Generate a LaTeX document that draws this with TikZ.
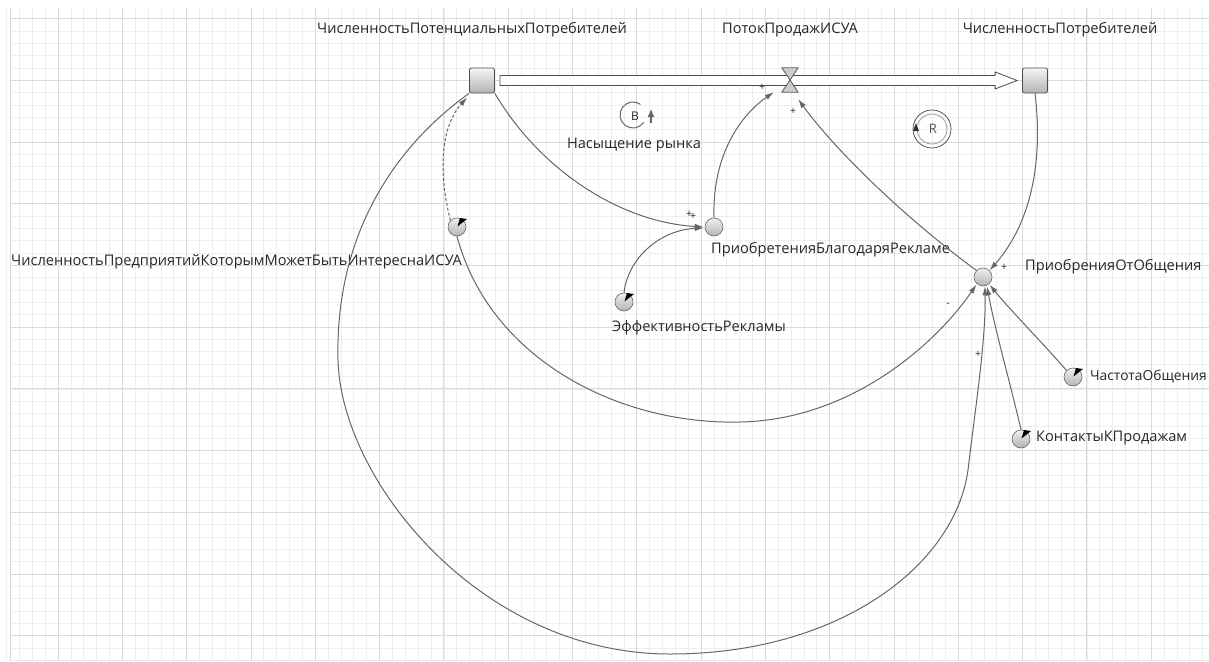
\documentclass[tikz,border=0pt]{standalone}
\usepackage{fontspec}
\setmainfont{Open Sans}
\usetikzlibrary{arrows.meta,calc}
\definecolor{gridminor}{HTML}{EEEEEE}
\definecolor{gridmajor}{HTML}{DADADA}
\definecolor{linec}{HTML}{666666}
\definecolor{textc}{HTML}{262626}
\begin{document}
\begin{tikzpicture}[x=1pt,y=-1pt,
  lbl/.style={font=\fontsize{14.6}{16}\selectfont, text=textc, inner sep=0pt},
  sgn/.style={font=\fontsize{10.5}{10.5}\selectfont, text=textc, inner sep=0pt},
  stockbox/.style={draw=black!70, rounded corners=2pt, minimum width=25pt, minimum height=25pt, inner sep=0pt, top color=gray!8, bottom color=gray!60, line width=0.8pt},
  auxc/.style={circle, draw=black!60, minimum size=18pt, inner sep=0pt, top color=gray!12, bottom color=gray!60, line width=0.6pt},
  parc/.style={auxc},
  conn/.style={draw=linec, line width=1pt, -{Latex[length=9pt,width=5.5pt]}},
  ptr/.style={fill=black},
]
\useasboundingbox (0,0) rectangle (1209,661);
% grid
\foreach \k in {1,...,94} {\draw[gridminor, line width=0.6pt] ({-6.3+12.86*\k},8) -- ({-6.3+12.86*\k},661);}
\foreach \k in {0,...,52} {\draw[gridminor, line width=0.6pt] (10,{18.6+12.34*\k}) -- (1209,{18.6+12.34*\k});}
\foreach \k in {1,...,18} {\draw[gridmajor, line width=0.7pt] ({-6.3+64.3*\k},8) -- ({-6.3+64.3*\k},661);}
\foreach \k in {0,...,10} {\draw[gridmajor, line width=0.7pt] (10,{18.6+61.7*\k}) -- (1209,{18.6+61.7*\k});}
\draw[gridmajor, line width=0.7pt] (10,8) -- (10,661);

% stocks, valve, variables
\node[stockbox] (s1) at (482,80.5) {};
\node[stockbox] (s2) at (1035,80.5) {};
\node[inner sep=0pt, minimum width=16pt, minimum height=24pt] (valve) at (790,80) {};
\node[auxc] (a1) at (714,227) {};
\node[auxc] (a2) at (983,277) {};
\node[parc] (p1) at (457,227) {};
\node[parc] (p2) at (624,302) {};
\node[parc] (p3) at (1073,377) {};
\node[parc] (p4) at (1021,439) {};
\foreach \p in {p1,p2,p3,p4} {
  \fill[ptr] ($(\p.center)+(0.5,-0.5)$) -- ($(\p.center)+(3,-9)$) -- ($(\p.center)+(10,-8)$) -- cycle;
}

% pipe
\draw[fill=white, draw=black!70, line width=0.8pt]
  ($(s1.east)+(5,-5)$) -- ($(s2.west)+(-27,-5)$) -- ($(s2.west)+(-27,-8.5)$) -- ($(s2.west)+(-5,0)$)
  -- ($(s2.west)+(-27,8.5)$) -- ($(s2.west)+(-27,5)$) -- ($(s1.east)+(5,5)$) -- cycle;
\draw[fill=gray!40, draw=black!65, line width=0.8pt, line join=round]
  (valve.north west) -- (valve.north east) -- (valve.south west) -- (valve.south east) -- cycle;

% labels
\node[lbl] (ls1) at (472,30) {ЧисленностьПотенциальныхПотребителей};
\node[lbl] (lv) at (790,30) {ПотокПродажИСУА};
\node[lbl] (ls2) at (1060,30) {ЧисленностьПотребителей};
\node[lbl, anchor=west] (la1) at (711,250) {ПриобретенияБлагодаряРекламе};
\node[lbl, anchor=west] (la2) at (1025,267) {ПриобренияОтОбщения};
\node[lbl, anchor=east] (lp1) at (462,262) {ЧисленностьПредприятийКоторымМожетБытьИнтереснаИСУА};
\node[lbl, anchor=west] (lp2) at (612,328) {ЭффективностьРекламы};
\node[lbl, anchor=east, font=\fontsize{13.8}{16}\selectfont] (lp3) at (1207,376) {ЧастотаОбщения};
\node[lbl, anchor=west] (lp4) at (1036,438) {КонтактыКПродажам};

% loops
\node[inner sep=0pt, minimum size=28pt, circle] (loopB) at (633,115) {};
\node[font=\fontsize{12}{12}\selectfont, text=textc] (lbB) at (635,116) {B};
\draw[linec, line width=1pt] ($(loopB.center)+(55:13pt)$) arc[start angle=55, end angle=325, radius=13pt];
\draw[linec, line width=1.1pt, -{Latex[length=8pt,width=7pt]}] ($(loopB.center)+(18,8)$) -- ($(loopB.center)+(18,-6)$);
\node[lbl] (lB) at (634,145) {Насыщение рынка};

\node[inner sep=0pt, minimum size=38pt, circle, draw=black!75, line width=0.7pt] (loopR) at (932,129) {};
\draw[gray!70, line width=0.9pt] ($(loopR.center)+(165:15pt)$) arc[start angle=165, end angle=-175, radius=15pt];
\fill[black!80] ($(loopR.center)+(-19,2)$) -- ($(loopR.center)+(-13,2)$) -- ($(loopR.center)+(-16,-6)$) -- cycle;
\node[font=\fontsize{13}{13}\selectfont, text=textc!80] (lbR) at (933,129) {R};

% connectors
\draw[conn] (s1.south east) .. controls (540,170) and (620,222) .. ($(a1.west)+(-1,0)$);
\draw[conn] (p2.north) .. controls (628,258) and (660,230) .. ($(a1.west)+(-1,1)$);
\draw[conn] (a1.north) .. controls (712,150) and (745,112) .. ($(valve.south west)+(-8,0)$);
\draw[conn] (a2.north west) .. controls (905,218) and (835,150) .. ($(valve.south east)+(0,7)$);
\draw[conn] (s2.south) .. controls (1043,160) and (1032,222) .. (a2.north east);
\draw[conn, dashed, dash pattern=on 3pt off 2pt] (p1.north west) .. controls (440,180) and (438,130) .. ($(s1.south west)+(-2,4)$);
\draw[conn] (s1.south west) .. controls (390,150) and (335,240) .. (338,360)
  .. controls (341,480) and (480,654) .. (670,654)
  .. controls (840,654) and (955,565) .. (968,470)
  .. controls (975,410) and (986,340) .. ($(a2.south)+(2,0)$);
\draw[conn] (p1.south) .. controls (490,360) and (620,425) .. (740,422)
  .. controls (850,420) and (935,345) .. ($(a2.south west)+(0,1)$);
\draw[conn] (p3.north west) .. controls (1040,340) and (1010,310) .. ($(a2.south east)+(0,1)$);
\draw[conn] (p4.north) .. controls (1012,390) and (995,330) .. ($(a2.south)+(4,0)$);

% signs
\node[sgn] (sg1) at (689,214) {+};
\node[sgn] (sg2) at (693,216) {+};
\node[sgn] (sg3) at (762,87) {+};
\node[sgn] (sg4) at (793,111) {+};
\node[sgn] (sg5) at (1004,267) {+};
\node[sgn] (sg6) at (948,305) {-};
\node[sgn] (sg7) at (978,354) {+};
\end{tikzpicture}
\end{document}
